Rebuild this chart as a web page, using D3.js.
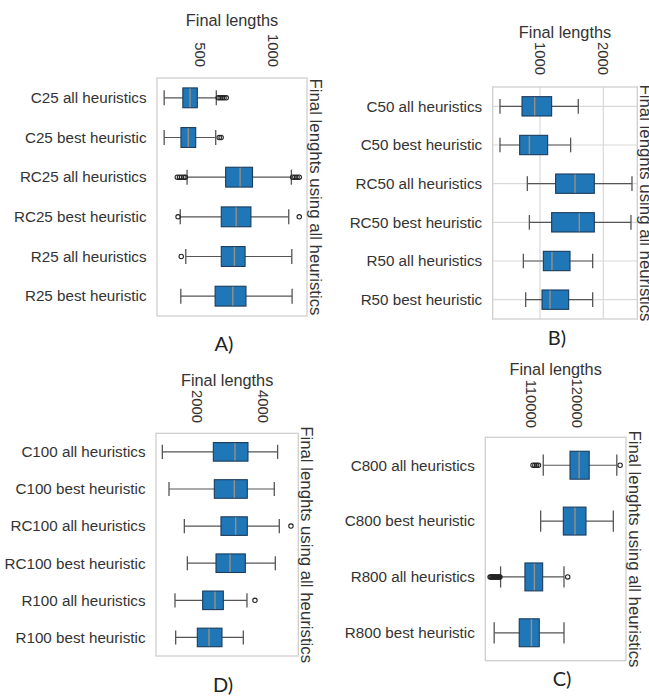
<!DOCTYPE html>
<html>
<head>
<meta charset="utf-8">
<script src="https://cdn.jsdelivr.net/npm/d3@7"></script>
<style>
body { margin: 0; background: #fff; }
text { font-family: "Liberation Sans", Arial, sans-serif; fill: #333; }
.plabel { font-family: Lato, "Open Sans", sans-serif; fill: #222; }
</style>
</head>
<body>
<div id="chart"></div>
<script>
// panel A - 25 customers
const catsA = ['C25 all heuristics', 'C25 best heuristic', 'RC25 all heuristics', 'RC25 best heuristic', 'R25 all heuristics', 'R25 best heuristic']
// [whisker low, q1, median, q3, whisker high]
const statsA = [[255, 383, 432, 482, 612], [255, 370, 420, 471, 608], [412, 676, 775, 860, 1126], [365, 646, 748, 849, 1108], [403, 646, 736, 809, 1129], [369, 604, 725, 815, 1131]]
const fliersA = [[625, 638, 652, 665, 680], [632, 645], [345, 360, 375, 390, 400, 1135, 1150, 1165, 1180], [350, 1180], [372], []]
const ticksA = [500, 1000]
const xlimA = [206, 1233]

// panel B - 50 customers
const catsB = ['C50 all heuristics', 'C50 best heuristic', 'RC50 all heuristics', 'RC50 best heuristic', 'R50 all heuristics', 'R50 best heuristic']
const statsB = [[368, 716, 916, 1184, 1605], [368, 679, 832, 1121, 1484], [800, 1247, 1553, 1858, 2453], [832, 1184, 1621, 1858, 2437], [737, 1053, 1189, 1474, 1832], [774, 1032, 1158, 1453, 1832]]
const fliersB = [[], [], [], [], [], []]
const ticksB = [1000, 2000]
const xlimB = [253, 2537]

// panel D - 100 customers
const catsD = ['C100 all heuristics', 'C100 best heuristic', 'RC100 all heuristics', 'RC100 best heuristic', 'R100 all heuristics', 'R100 best heuristic']
const statsD = [[939, 2485, 3141, 3535, 4434], [1141, 2515, 3121, 3515, 4333], [1606, 2717, 3162, 3515, 4485], [1697, 2566, 2990, 3455, 4364], [1323, 2162, 2535, 2788, 3505], [1343, 2000, 2354, 2747, 3394]]
const fliersD = [[], [], [4838], [], [3747], []]
const ticksD = [2000, 4000]
const xlimD = [747, 5061]

// panel C - 800 customers
const catsC = ['C800 all heuristics', 'C800 best heuristic', 'R800 all heuristics', 'R800 best heuristic']
const statsC = [[112544, 118399, 120400, 122600, 128640], [111971, 116934, 119489, 121898, 127883], [103202, 108531, 110600, 112412, 117083], [101798, 107280, 109950, 111667, 117083]]
const fliersC = [[110300, 110700, 111100, 111500, 129364], [], [100900, 101100, 101300, 101500, 101700, 101900, 102100, 102300, 102500, 102700, 102900, 103050, 117895], []]
const ticksC = [110000, 120000]
const xlimC = [99854, 130657]

const xTitle = 'Final lengths'
const yTitle = 'Final lenghts using all heuristics'

let svg = d3.select('#chart')
  .append('svg')
  .attr('width', 649)
  .attr('height', 698)

// frame boxes, title and label spots for each panel
let panels = [
  { cats: catsA, stats: statsA, fliers: fliersA, ticks: ticksA, xlim: xlimA, x0: 157, x1: 307, y0: 78, y1: 316, titleY: 25.5, tickY: 67, grid: false, name: 'A)', nx: 224, ny: 351 },
  { cats: catsB, stats: statsB, fliers: fliersB, ticks: ticksB, xlim: xlimB, x0: 492.7, x1: 637.3, y0: 87, y1: 319, titleY: 37.5, tickY: 75, grid: true, name: 'B)', nx: 557, ny: 345 },
  { cats: catsD, stats: statsD, fliers: fliersD, ticks: ticksD, xlim: xlimD, x0: 156, x1: 298.3, y0: 433.3, y1: 656, titleY: 386, tickY: 423, grid: false, name: 'D)', nx: 223, ny: 692 },
  { cats: catsC, stats: statsC, fliers: fliersC, ticks: ticksC, xlim: xlimC, x0: 485.3, x1: 626, y0: 437.3, y1: 660.7, titleY: 374.5, tickY: 428, grid: false, name: 'C)', nx: 562, ny: 686 }
]

panels.forEach(p => {
  let g = svg.append('g')
  let x = d3.scaleLinear().domain(p.xlim).range([p.x0, p.x1])
  let y = d3.scaleBand().domain(p.cats).range([p.y0, p.y1])
  let bh = y.bandwidth() * 0.5
  let cap = bh * 0.38

  // grid (panel B only)
  if (p.grid) {
    g.selectAll('.vgrid').data(p.ticks).join('line')
      .attr('x1', d => x(d)).attr('x2', d => x(d))
      .attr('y1', p.y0).attr('y2', p.y1)
      .attr('stroke', '#d9d9d9').attr('stroke-width', 1.2)
    g.selectAll('.hgrid').data(p.cats).join('line')
      .attr('x1', p.x0).attr('x2', p.x1)
      .attr('y1', d => y(d) + y.bandwidth() / 2).attr('y2', d => y(d) + y.bandwidth() / 2)
      .attr('stroke', '#d9d9d9').attr('stroke-width', 1.2)
  }

  // frame
  g.append('rect')
    .attr('x', p.x0).attr('y', p.y0)
    .attr('width', p.x1 - p.x0).attr('height', p.y1 - p.y0)
    .attr('fill', 'none').attr('stroke', '#cfcfcf').attr('stroke-width', 1.3)

  // top tick labels, rotated
  g.selectAll('.tick').data(p.ticks).join('text')
    .attr('transform', d => `translate(${x(d)},${p.tickY}) rotate(90)`)
    .attr('text-anchor', 'end')
    .attr('dy', '0.35em')
    .style('font-size', '14.8px')
    .text(d => d)

  g.append('text')
    .attr('x', (p.x0 + p.x1) / 2).attr('y', p.titleY)
    .attr('text-anchor', 'middle')
    .style('font-size', '16.3px')
    .text(xTitle)

  // right label (runs off the page edge in panel B, as in the source)
  g.append('text')
    .attr('transform', `translate(${p.x1 + 9},${(p.y0 + p.y1) / 2}) rotate(90)`)
    .attr('text-anchor', 'middle')
    .attr('dy', '0.35em')
    .style('font-size', '16.8px')
    .text(yTitle)

  // category labels
  g.selectAll('.cat').data(p.cats).join('text')
    .attr('x', p.x0 - 10.5)
    .attr('y', d => y(d) + y.bandwidth() / 2)
    .attr('dy', '0.35em')
    .attr('text-anchor', 'end')
    .style('font-size', '15.2px')
    .text(d => d)

  // boxes
  let rows = g.selectAll('.row').data(p.stats).join('g')
    .attr('transform', (d, i) => `translate(0,${y(p.cats[i]) + y.bandwidth() / 2})`)

  rows.append('line')
    .attr('x1', d => x(d[0])).attr('x2', d => x(d[4]))
    .attr('stroke', '#555').attr('stroke-width', 1.2)
  rows.selectAll('.cap').data(d => [d[0], d[4]]).join('line')
    .attr('x1', d => x(d)).attr('x2', d => x(d))
    .attr('y1', -cap).attr('y2', cap)
    .attr('stroke', '#555').attr('stroke-width', 1.3)
  rows.append('rect')
    .attr('x', d => x(d[1])).attr('width', d => x(d[3]) - x(d[1]))
    .attr('y', -bh / 2).attr('height', bh)
    .attr('fill', '#2077b8').attr('stroke', '#1b3b5c').attr('stroke-width', 1.1)
  rows.append('line')
    .attr('x1', d => x(d[2])).attr('x2', d => x(d[2]))
    .attr('y1', -bh / 2 + 0.6).attr('y2', bh / 2 - 0.6)
    .attr('stroke', '#9a8f80').attr('stroke-width', 1.4)

  // outliers
  rows.each(function (d, i) {
    d3.select(this).selectAll('circle').data(p.fliers[i]).join('circle')
      .attr('cx', v => x(v)).attr('r', 2.2)
      .attr('fill', 'none').attr('stroke', '#222').attr('stroke-width', 1.1)
  })

  svg.append('text')
    .attr('class', 'plabel')
    .attr('x', p.nx).attr('y', p.ny)
    .attr('text-anchor', 'middle')
    .style('font-size', '20px')
    .text(p.name)
})
</script>
</body>
</html>
